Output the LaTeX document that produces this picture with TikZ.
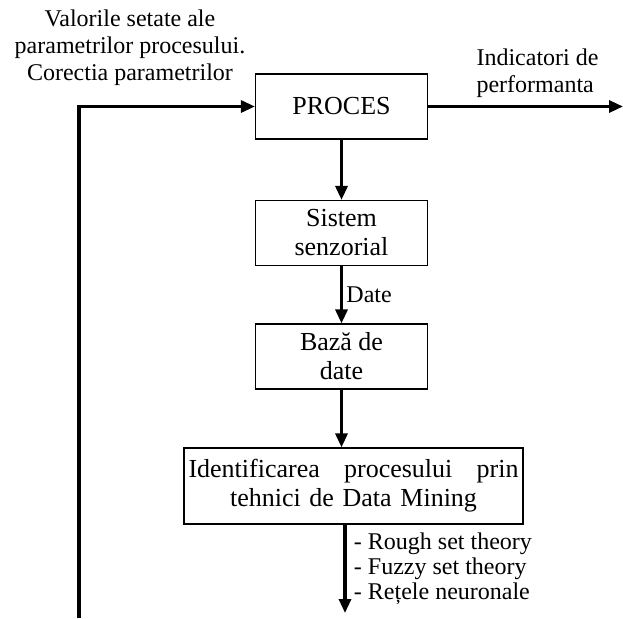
\documentclass[tikz,border=0pt]{standalone}
\usepackage{fontspec}
\setmainfont{Liberation Serif}
\usetikzlibrary{positioning,arrows.meta}

\begin{document}
\begin{tikzpicture}[x=1pt,y=1pt,node distance=125pt,on grid,auto,
    >={Triangle[length=14pt,width=12pt]},
    bloc/.style={draw,line width=1.2pt,minimum width=172pt,minimum height=65pt,inner sep=2pt,align=center,font=\fontsize{26}{29}\selectfont},
    flux/.style={line width=3.2pt},
    eticheta/.style={font=\fontsize{24}{27}\selectfont}]
      \useasboundingbox (0,0) rectangle (623,-618);
      \node[bloc] (proces) at (341.5,-106.5) {PROCES};
      \node[bloc] (sistem) [below=126.5pt of proces] {Sistem\\senzorial};
      \node[bloc] (baza) [below=123.5pt of sistem] {Bază de\\date};
      \node[bloc,minimum width=339pt,minimum height=76pt,text width=330pt] (ident) [below right=129.5pt and 12pt of baza] {Identificarea\hfill procesului\hfill prin\\tehnici de Data Mining};
      \coordinate (retur) at (79,-618);
      \coordinate (iesire) at (623,-106.5);
      \coordinate (final) at (345,-613);
      \node[eticheta,align=center] (valori) at (130,-48) {Valorile setate ale\\parametrilor procesului.\\Corectia parametrilor};
      \node[eticheta,align=left,anchor=west] (indicatori) at (473,-73) {Indicatori de\\performanta};
      \path[->,flux]
      (proces) edge (sistem)
      (sistem) edge node[eticheta] {Date} (baza)
      (baza) edge (baza |- ident.north)
      (proces) edge (iesire)
      ; %end path
      \draw[->,flux] (retur) |- (proces);
      \draw[->,flux] (ident.south -| final) -- node[right,xshift=4pt,eticheta,align=left,font=\fontsize{24}{25}\selectfont] {- Rough set theory\\- Fuzzy set theory\\- Rețele neuronale} (final);
\end{tikzpicture}
\end{document}
